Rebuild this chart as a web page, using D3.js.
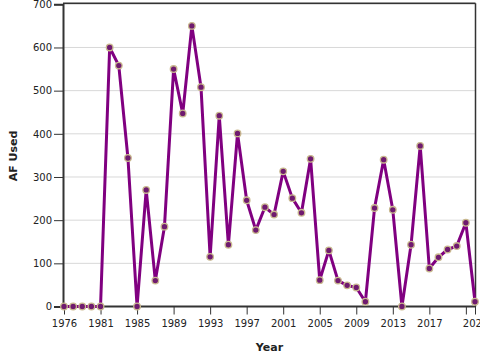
<!DOCTYPE html>
<html>
<head>
<meta charset="utf-8">
<script src="https://cdn.jsdelivr.net/npm/d3@7"></script>
<style>
  html, body { margin: 0; padding: 0; background: #fff; }
  svg { display: block; font-family: "DejaVu Sans", Verdana, sans-serif; }
</style>
</head>
<body>
<svg id="chart" width="480" height="360"></svg>
<script>
const years = [1976, 1977, 1978, 1979, 1981, 1982, 1983, 1984, 1985, 1986, 1987, 1988, 1989, 1990, 1991, 1992, 1993, 1994, 1995, 1996, 1997, 1998, 1999, 2000, 2001, 2002, 2003, 2004, 2005, 2006, 2007, 2008, 2009, 2010, 2011, 2012, 2013, 2014, 2015, 2016, 2017, 2018, 2019, 2020, 2021, 2022];
const afUsed = [0, 0, 0, 0, 0, 600, 558, 344, 0, 270, 60, 185, 550, 447, 650, 508, 115, 442, 143, 401, 246, 177, 230, 213, 313, 251, 217, 342, 61, 130, 60, 49, 44, 11, 228, 340, 224, 0, 143, 372, 88, 114, 132, 140, 194, 11];
const xTickValues = [1976, 1981, 1985, 1989, 1993, 1997, 2001, 2005, 2009, 2013, 2017, 2021, 2022];
const xTickHidden = [2021];
const yTickValues = [0, 100, 200, 300, 400, 500, 600, 700];
const xTitle = "Year";
const yTitle = "AF Used";

(function () {
const svg = d3.select("#chart");
const mLeft = 63, mRight = 475, mTop = 4.3, mBottom = 306.5;

const x = d3.scalePoint().domain(years).range([64, 475]).padding(0);
const y = d3.scaleLinear().domain([0, 700]).range([mBottom, mTop]);

// gridlines
svg.append("g")
  .selectAll("line")
  .data(yTickValues.filter(v => v > 0))
  .join("line")
  .attr("x1", mLeft).attr("x2", mRight)
  .attr("y1", d => y(d)).attr("y2", d => y(d))
  .attr("stroke", "#d8d8d8").attr("stroke-width", 1);

// frame top and right
svg.append("line").attr("x1", mLeft).attr("x2", mRight + 0.5).attr("y1", 3.3).attr("y2", 3.3)
  .attr("stroke", "#333").attr("stroke-width", 1.5);
svg.append("line").attr("x1", mRight + 0.5).attr("x2", mRight + 0.5).attr("y1", 3.3).attr("y2", mBottom)
  .attr("stroke", "#333").attr("stroke-width", 1.5);

// y axis
const yAxis = svg.append("g")
  .attr("transform", `translate(${mLeft},0)`)
  .call(d3.axisLeft(y).tickValues(yTickValues).tickSize(9).tickPadding(2).tickFormat(d3.format("d")));
yAxis.select(".domain").attr("stroke", "#333").attr("stroke-width", 2);
yAxis.selectAll(".tick line").attr("stroke", "#333").attr("stroke-width", 1);
yAxis.selectAll(".tick text").attr("font-size", 10).attr("fill", "#222")
  .attr("font-family", "DejaVu Sans, sans-serif");

// x axis
const xAxis = svg.append("g")
  .attr("transform", `translate(0,${mBottom})`)
  .call(d3.axisBottom(x).tickValues(xTickValues).tickSize(8).tickPadding(5)
    .tickFormat(d => xTickHidden.includes(d) ? "" : String(d)));
xAxis.select(".domain").attr("stroke", "#333").attr("stroke-width", 2).attr("d", `M${mLeft},0H${mRight + 1}`);
xAxis.selectAll(".tick line").attr("stroke", "#333").attr("stroke-width", 1);
xAxis.selectAll(".tick text").attr("font-size", 10).attr("fill", "#222")
  .attr("font-family", "DejaVu Sans, sans-serif");

// line
const line = d3.line().x((d, i) => x(years[i])).y(d => y(d));
svg.append("path")
  .datum(afUsed)
  .attr("d", line)
  .attr("fill", "none")
  .attr("stroke", "#800080")
  .attr("stroke-width", 3)
  .attr("stroke-linejoin", "round");

// points
svg.append("g")
  .selectAll("circle")
  .data(afUsed)
  .join("circle")
  .attr("cx", (d, i) => x(years[i]))
  .attr("cy", d => y(d))
  .attr("r", 3.3)
  .attr("fill", "#6f1a6f")
  .attr("stroke", "#c9b98f")
  .attr("stroke-width", 1.3);

// titles
svg.append("text")
  .attr("x", (mLeft + mRight) / 2 + 0.5).attr("y", 351)
  .attr("text-anchor", "middle")
  .attr("font-size", 11).attr("font-weight", "bold").attr("fill", "#222")
  .text(xTitle);
svg.append("text")
  .attr("transform", "translate(17,156) rotate(-90)")
  .attr("text-anchor", "middle")
  .attr("font-size", 11).attr("font-weight", "bold").attr("fill", "#222")
  .text(yTitle);
})();
</script>
</body>
</html>
